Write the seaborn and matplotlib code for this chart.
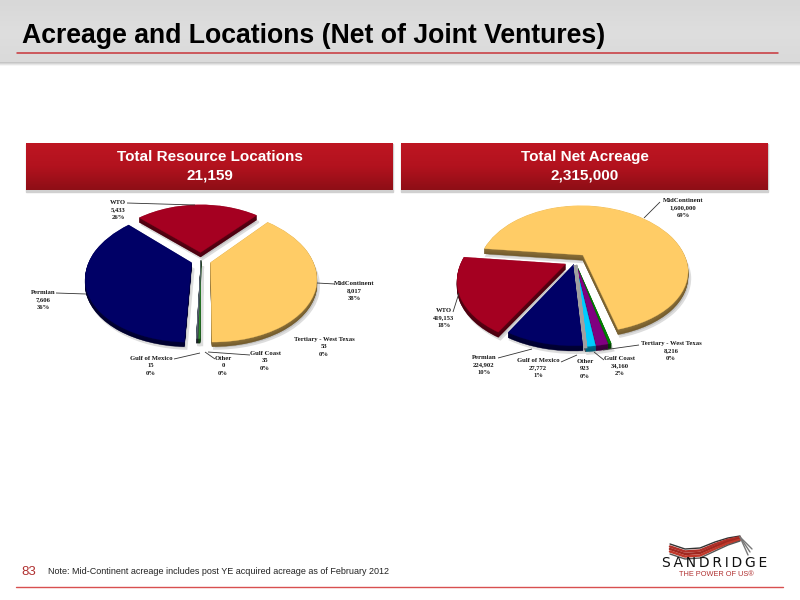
import numpy as np
import matplotlib
matplotlib.use("Agg")
import matplotlib.pyplot as plt
from matplotlib.patches import PathPatch, Rectangle
from matplotlib.path import Path
from matplotlib.colors import LinearSegmentedColormap
import seaborn as sns

sns.set_theme(style="white")
plt.rcParams["font.family"] = ["Liberation Sans", "DejaVu Sans"]

TITLE = "Acreage and Locations (Net of Joint Ventures)"
NOTE = "Note: Mid-Continent acreage includes post YE acquired acreage as of February 2012"
PAGE = "83"

left_names = ["MidContinent", "Tertiary - West Texas", "Gulf Coast", "Other", "Gulf of Mexico", "Permian", "WTO"]
left_values = [8017, 53, 35, 0, 15, 7606, 5433]
left_pct = ["38%", "0%", "0%", "0%", "0%", "36%", "26%"]
left_colors = ["#FFCC66", "#2E8B2E", "#404050", "#808080", "#607080", "#000066", "#A50021"]
left_explode = [0.1, 0, 0, 0, 0, 0.1, 0.12]

right_names = ["MidContinent", "Tertiary - West Texas", "Gulf Coast", "Gulf of Mexico", "Other", "Permian", "WTO"]
right_values = [1600000, 8216, 34160, 27772, 923, 224902, 419153]
right_pct = ["69%", "0%", "2%", "1%", "0%", "10%", "18%"]
right_colors = ["#FFCC66", "#008000", "#800080", "#00CCFF", "#A0A0A0", "#000066", "#A50021"]
right_explode = [0.12, 0.06, 0.06, 0.06, 0.06, 0.05, 0.1]

W, H = 800, 600
fig = plt.figure(figsize=(W / 100, H / 100), dpi=100, facecolor="white")
bg = fig.add_axes([0, 0, 1, 1], zorder=0)
bg.set_xlim(0, W); bg.set_ylim(H, 0); bg.axis("off")
top = fig.add_axes([0, 0, 1, 1], zorder=5)
top.set_xlim(0, W); top.set_ylim(H, 0); top.axis("off"); top.patch.set_alpha(0)


def gradient(ax, x0, x1, y0, y1, colors, z=1):
    cmap = LinearSegmentedColormap.from_list("g", colors)
    ax.imshow(np.linspace(0, 1, 64)[:, None], cmap=cmap, extent=(x0, x1, y1, y0),
              aspect="auto", zorder=z, interpolation="bilinear")
    ax.set_xlim(0, W); ax.set_ylim(H, 0)


gradient(bg, 0, W, 0, 62, ["#D8D8D8", "#DEDEDE", "#DADADA"])
gradient(bg, 0, W, 62, 66, ["#BDBDBD", "#FFFFFF"])
bg.plot([17, 778], [52.5, 52.5], color="#C8353A", lw=1.1, zorder=3)
bg.text(22, 43, TITLE, fontsize=19.2, fontweight="bold", color="black", va="baseline", ha="left", zorder=4)

for x0, x1, t1, t2 in [(26, 393, "Total Resource Locations", "21,159"),
                       (401, 768, "Total Net Acreage", "2,315,000")]:
    bg.add_patch(Rectangle((x0, 144), x1 - x0, 48, color="#D0D0D0", zorder=1))
    gradient(bg, x0, x1, 143, 190, ["#BE1622", "#B2121E", "#8E0E16"], z=2)
    cx = (x0 + x1) / 2
    bg.text(cx, 157, t1, color="white", fontsize=11, fontweight="bold", ha="center", va="center", zorder=3)
    bg.text(cx, 176, t2, color="white", fontsize=11, fontweight="bold", ha="center", va="center", zorder=3)

bg.text(21, 572, PAGE, color="#B03030", fontsize=9.5, ha="left", va="center")
bg.text(48, 572, NOTE, color="#222222", fontsize=6.45, ha="left", va="center")
bg.plot([16, 783], [587, 587], color="#D85050", lw=1.0)


def project(v):
    out = v.copy()
    y = v[:, 1]
    out[:, 0] = v[:, 0] * (1 - 0.25 * y)
    out[:, 1] = 0.635 * y - 0.135 * y * y
    return out


def draw_pie(cx, cy, R, values, colors, explode, startangle, depth, wide=None):
    ax = fig.add_axes([(cx - 1.5 * R) / W, 1 - (cy + 1.5 * R) / H, 3 * R / W, 3 * R / H], zorder=2)
    wedges, _ = ax.pie(values, colors=colors, explode=explode, startangle=startangle,
                       counterclock=False, radius=1)
    ax.set_xlim(-1.5, 1.5); ax.set_ylim(-1.5, 1.5)
    shapes = []
    for k, w in enumerate(wedges):
        p = w.get_patch_transform().transform_path(w.get_path())
        shapes.append((Path(project(p.vertices), p.codes), w.get_facecolor(), k == wide))
        w.set_visible(False)
    for path, col, _w in shapes:
        ax.add_patch(PathPatch(Path(path.vertices + [0.02, -depth - 0.02], path.codes),
                               fc="#C4C4C4", ec="#DDDDDD", lw=1.5, zorder=1))
    for i in np.linspace(1, 0.1, 8):
        for path, col, _w in shapes:
            dark = tuple(c * (0.45 + 0.1 * (1 - i)) for c in col[:3])
            ax.add_patch(PathPatch(Path(path.vertices + [0, -depth * i], path.codes),
                                   fc=dark, ec=dark, lw=0.3, zorder=2))
    for path, col, w_ in shapes:
        ax.add_patch(PathPatch(path, fc=col, ec=col, lw=2.6 if w_ else 0.2, zorder=4 if w_ else 3))
    return ax


def lines(segs):
    for xs, ys in segs:
        top.plot(xs, ys, color="#333333", lw=0.6, solid_capstyle="butt")


def label(x, y, name, val, pct):
    top.text(x, y, f"{name}\n{val:,}\n{pct}", family="Liberation Serif", fontweight="bold",
             fontsize=4.8, color="#1a1a1a", ha="center", va="top", linespacing=1.6)


draw_pie(201, 260, 102, left_values, left_colors, left_explode, 46, 0.045)
draw_pie(575, 261, 104, right_values, right_colors, right_explode, 174, 0.05, wide=4)

left_pos = [(354, 281), (324, 337), (265, 351), (223, 356), (151, 356), (43, 290), (118, 200)]
for (x, y), n, v, p in zip(left_pos, left_names, left_values, left_pct):
    label(x, y, n, v, p)
right_pos = [(683, 198), (671, 341), (620, 356), (538, 358), (585, 359), (484, 355), (444, 308)]
for (x, y), n, v, p in zip(right_pos, right_names, right_values, right_pct):
    label(x, y, n, v, p)

lines([([127, 195], [203, 205]), ([317, 335], [283, 284]), ([56, 86], [293, 294]),
       ([174, 200], [359, 353]), ([215, 205], [359, 352]), ([250, 208], [355, 352]),
       ([660, 644], [202, 218]), ([453, 459], [312, 293]), ([498, 532], [358, 349]),
       ([561, 577], [362, 355]), ([604, 594], [360, 352]), ([639, 603], [345, 350])])

# logo
logo_x = np.array([670, 685, 700, 715, 728, 740])
logo_y = np.array([544, 549, 548, 542, 538, 536])
for off, c, lw in zip([0, 2.5, 5, 7.5, 10], ["#333333", "#B03028", "#A02820", "#C0392B", "#555555"],
                      [1.0, 1.8, 1.8, 1.8, 1.0]):
    top.plot(logo_x, logo_y + off * np.array([1, 1, 1, 0.9, 0.7, 0.5]), color=c, lw=lw)
for dx, dy in [(8, 14), (10, 11), (12, 8)]:
    top.plot([740, 740 + dx], [537, 537 + dy + 4], color="#777777", lw=1.0)
top.text(715, 563, "\u2009".join("SANDRIDGE"), family="DejaVu Sans", fontsize=10, ha="center",
         va="center", color="#111111")
top.text(716, 574, "THE POWER OF US\u00ae", fontsize=5.3, ha="center", va="center", color="#B03030")

fig.savefig("out.png", dpi=100)
